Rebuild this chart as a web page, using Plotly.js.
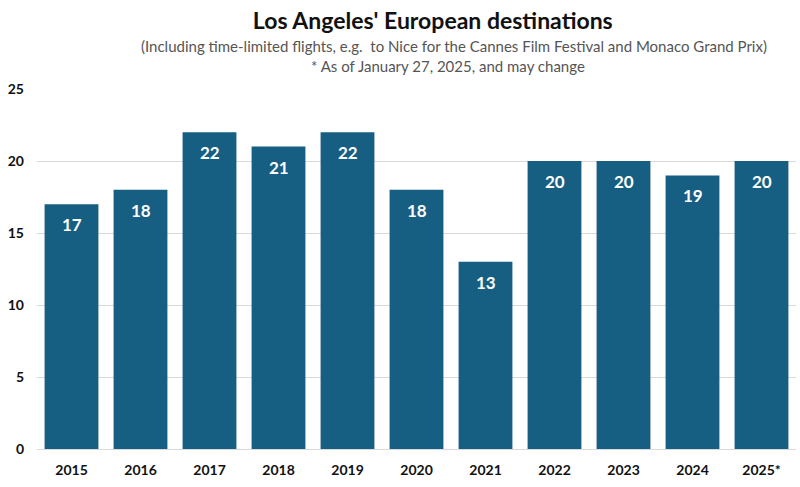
<!DOCTYPE html>
<html>
<head>
<meta charset="utf-8">
<script src="https://cdn.plot.ly/plotly-3.0.1.min.js"></script>
<style>html,body{margin:0;padding:0;background:#fff;}#chart{width:800px;height:487px;}</style>
</head>
<body>
<div id="chart"></div>
<script>
const years = ['2015','2016','2017','2018','2019','2020','2021','2022','2023','2024','2025*'];
const destinations = [17, 18, 22, 21, 22, 18, 13, 20, 20, 19, 20];
const yTicks = [0, 5, 10, 15, 20, 25];

const FONT = 'Lato, "Open Sans", sans-serif';
const BAR = '#175e83';

const trace = {
  type: 'bar',
  x: years,
  y: destinations,
  marker: {color: BAR},
  textposition: 'none',
  hoverinfo: 'x+y'
};

const labelAnns = years.map((yr, i) => ({
  x: i, y: destinations[i], xref: 'x', yref: 'y',
  text: '<b>' + destinations[i] + '</b>',
  showarrow: false, yanchor: 'top', yshift: -8,
  font: {family: FONT, size: 17, color: '#ffffff'}
}));

const subAnns = [
  {text: '(Including time-limited flights, e.g.  to Nice for the Cannes Film Festival and Monaco Grand Prix)', x: 0.549, py: 46},
  {text: '* As of January 27, 2025, and may change', x: 0.541, py: 66}
].map(a => ({
  text: a.text, xref: 'paper', yref: 'paper', x: a.x,
  y: 1 + (89 - a.py) / (487 - 89 - 38),
  xanchor: 'center', yanchor: 'middle', showarrow: false,
  font: {family: FONT, size: 15, color: '#555555'}
}));

const layout = {
  width: 800, height: 487,
  margin: {l: 37, r: 4, t: 89, b: 38},
  paper_bgcolor: '#ffffff', plot_bgcolor: '#ffffff',
  font: {family: FONT, color: '#111111'},
  bargap: 0.22,
  showlegend: false,
  title: {
    text: "<b>Los Angeles' European destinations</b>",
    font: {family: FONT, size: 23, color: '#111111'},
    x: 0.541, xanchor: 'center', y: 1 - 21 / 487, yanchor: 'middle', yref: 'container'
  },
  xaxis: {
    type: 'category',
    range: [-0.5, 10.5],
    tickfont: {family: FONT, size: 14, color: '#111111', weight: 'bold'},
    showgrid: false, zeroline: false, showline: false, ticks: '',
    ticklabelstandoff: 11,
    fixedrange: true
  },
  yaxis: {
    range: [0, 25],
    tickvals: yTicks,
    ticktext: yTicks.map(v => '<b>' + v + '</b>'),
    tickfont: {family: FONT, size: 14, color: '#111111'},
    showgrid: true, gridcolor: '#d9d9d9', gridwidth: 1,
    zeroline: true, zerolinecolor: '#d9d9d9', zerolinewidth: 1,
    showline: false, ticks: '', ticklabelstandoff: 12,
    fixedrange: true
  },
  annotations: subAnns.concat(labelAnns)
};

Plotly.newPlot('chart', [trace], layout, {displayModeBar: false, staticPlot: true});
</script>
</body>
</html>
